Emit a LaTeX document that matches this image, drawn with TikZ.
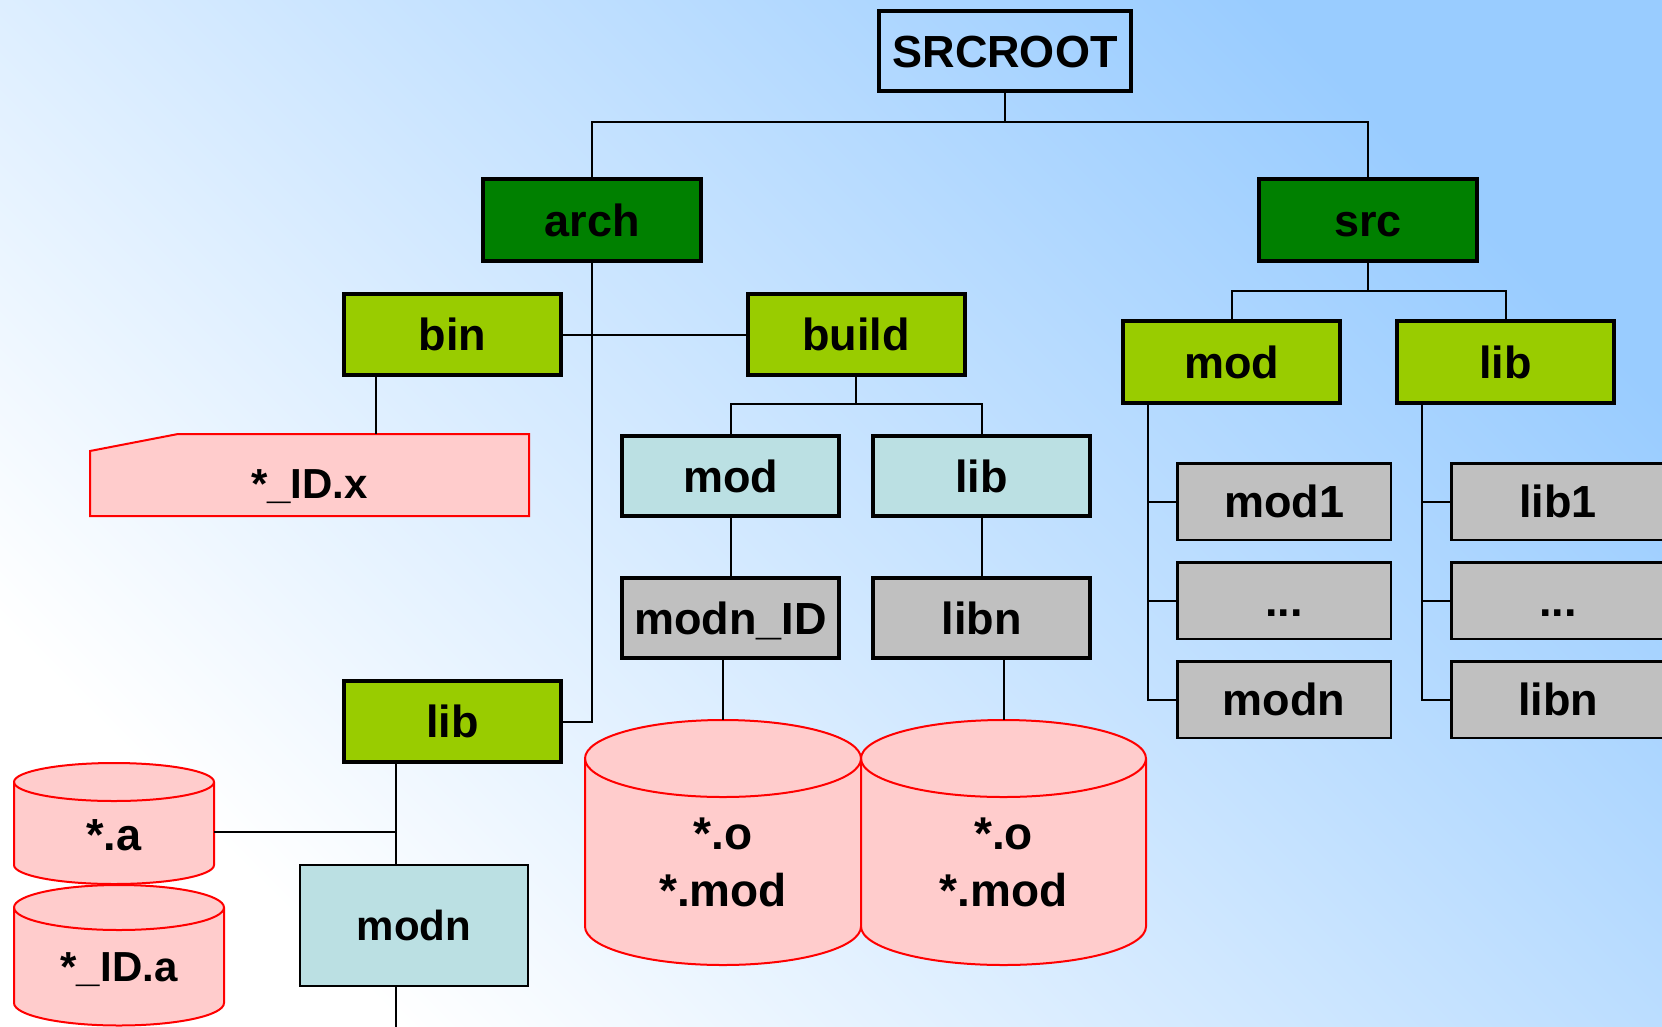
\documentclass[tikz,border=0pt]{standalone}
\usepackage{fontspec}
\setmainfont{Liberation Sans}
\definecolor{bgblue}{RGB}{153,204,255}
\definecolor{dgreen}{RGB}{0,128,0}
\definecolor{lgreen}{RGB}{153,204,0}
\definecolor{tealc}{RGB}{187,224,227}
\definecolor{greyc}{RGB}{192,192,192}
\definecolor{pinkc}{RGB}{255,204,204}
\tikzset{
  fnt/.style={font=\bfseries\fontsize{45}{54}\selectfont, text height=32pt, text depth=0pt},
  fnts/.style={font=\bfseries\fontsize{42}{50}\selectfont, text height=30pt, text depth=0pt},
  fntc/.style={font=\bfseries\fontsize{46}{55}\selectfont, text height=33pt, text depth=0pt},
  dirbox/.style={draw=black, line width=4pt, rectangle, inner sep=0pt, minimum width=217pt, minimum height=81pt, fnt},
  rootbox/.style={dirbox, minimum width=252pt, minimum height=80pt},
  topbox/.style={dirbox, fill=dgreen, minimum width=218pt, minimum height=82pt},
  subbox/.style={dirbox, fill=lgreen},
  tealbox/.style={dirbox, fill=tealc, minimum height=80pt},
  greybox/.style={dirbox, fill=greyc, minimum height=80pt},
  leafbox/.style={draw=black, line width=2.5pt, rectangle, fill=greyc, minimum width=213.5pt, minimum height=76.5pt, inner sep=0pt, fnt},
  conn/.style={draw=black, line width=2pt},
  filest/.style={draw=red, line width=2pt, fill=pinkc},
  lbl/.style={inner sep=0pt, fnt},
}
\newcommand\mycyl[5]{%
  \filldraw[filest] ({#1-#2},#3) -- ({#1-#2},#4) arc[start angle=180,end angle=360,x radius=#2pt,y radius=#5pt]
     -- ({#1+#2},#3) arc[start angle=0,end angle=180,x radius=#2pt,y radius=#5pt] -- cycle;
  \draw[filest, fill=none] ({#1-#2},#3) arc[start angle=180,end angle=360,x radius=#2pt,y radius=#5pt];
}
\begin{document}
\begin{tikzpicture}[x=1pt,y=-1pt]
\useasboundingbox (0,0) rectangle (1662,1026);
\shade[top color=bgblue, bottom color=white, shading angle=-45] (0,0) rectangle (1662,1026);

% nodes
\node[rootbox] (root) at (1005,51) {SRCROOT};
\node[topbox] (arch) at (592,220) {arch};
\node[topbox] (src) at (1368,220) {src};
\node[subbox] (bin) at (452.5,334.5) {bin};
\node[subbox] (build) at (856,334.5) {build};
\node[subbox, minimum height=82pt] (smod) at (1231.5,362) {mod};
\node[subbox, minimum height=82pt] (slib) at (1505.5,362) {lib};
\node[tealbox] (tmod) at (730.5,476) {mod};
\node[tealbox] (tlib) at (981.5,476) {lib};
\node[greybox] (modnid) at (730.5,618) {modn\_ID};
\node[greybox] (blibn) at (981.5,618) {libn};
\node[subbox] (alib) at (452.5,721.5) {lib};

\node[leafbox] (gmod1) at (1284,501.5) {mod1};
\node[leafbox] (gmdots) at (1284,600.5) {...};
\node[leafbox] (gmodn) at (1284,699.5) {modn};
\node[leafbox] (glib1) at (1558,501.5) {lib1};
\node[leafbox] (gldots) at (1558,600.5) {...};
\node[leafbox] (glibn) at (1558,699.5) {libn};

\node[draw=black, line width=2pt, fill=tealc, minimum width=228pt, minimum height=121pt, inner sep=0pt, fnts] (amodn) at (414,925.5) {modn};

% *_ID.x file
\filldraw[filest] (90,451) -- (178,434) -- (529,434) -- (529,516) -- (90,516) -- cycle;
\node[lbl, fnts] (idx) at (309.5,483) {*\_ID.x};
\coordinate (idxtop) at (376,434);

% cylinders
\mycyl{723}{138}{758.5}{926.5}{38.5}
\mycyl{1003.5}{142.5}{758.5}{926.5}{38.5}
\mycyl{114}{100}{782}{865}{19}
\mycyl{119}{105}{907.5}{1003}{22.5}
\node[lbl, fntc] (o1) at (723,832.5) {*.o};
\node[lbl, fntc] (m1) at (723,890) {*.mod};
\node[lbl, fntc] (o2) at (1003.5,832.5) {*.o};
\node[lbl, fntc] (m2) at (1003.5,890) {*.mod};
\node[lbl] (sa) at (114,834) {*.a};
\node[lbl, fnts] (sida) at (119,966) {*\_ID.a};
\coordinate (c1top) at (723,720);
\coordinate (c2top) at (1004,720);
\coordinate (caeast) at (214,832);

% helper coordinates
\coordinate (h1) at (0,122);
\coordinate (h2) at (0,404);
\coordinate (h3) at (0,291);
\coordinate (v1) at (1148,0);
\coordinate (v2) at (1422,0);
\coordinate (v3) at (396,0);
\coordinate (bend) at (396,1030);

% connectors
\draw[conn] (root.south) -- (root.south |- h1);
\draw[conn] (arch.north) |- (h1 -| src.north) -- (src.north);
\draw[conn] (bin.east) -- (build.west);
\draw[conn] (arch.south) |- (alib.east);
\draw[conn] (bin.south -| idxtop) -- (idxtop);
\draw[conn] (build.south) -- (build.south |- h2);
\draw[conn] (tmod.north) |- (h2 -| tlib.north) -- (tlib.north);
\draw[conn] (tmod.south) -- (modnid.north);
\draw[conn] (tlib.south) -- (blibn.north);
\draw[conn] (modnid.south -| c1top) -- (c1top);
\draw[conn] (blibn.south -| c2top) -- (c2top);
\draw[conn] (src.south) -- (src.south |- h3);
\draw[conn] (smod.north) |- (h3 -| slib.north) -- (slib.north);
\draw[conn] (smod.south -| v1) |- (gmodn.west);
\draw[conn] (v1 |- gmod1.west) -- (gmod1.west);
\draw[conn] (v1 |- gmdots.west) -- (gmdots.west);
\draw[conn] (slib.south -| v2) |- (glibn.west);
\draw[conn] (v2 |- glib1.west) -- (glib1.west);
\draw[conn] (v2 |- gldots.west) -- (gldots.west);
\draw[conn] (alib.south -| v3) -- (amodn.north -| v3);
\draw[conn] (caeast) -- (caeast -| v3);
\draw[conn] (amodn.south -| v3) -- (bend);
\end{tikzpicture}
\end{document}
